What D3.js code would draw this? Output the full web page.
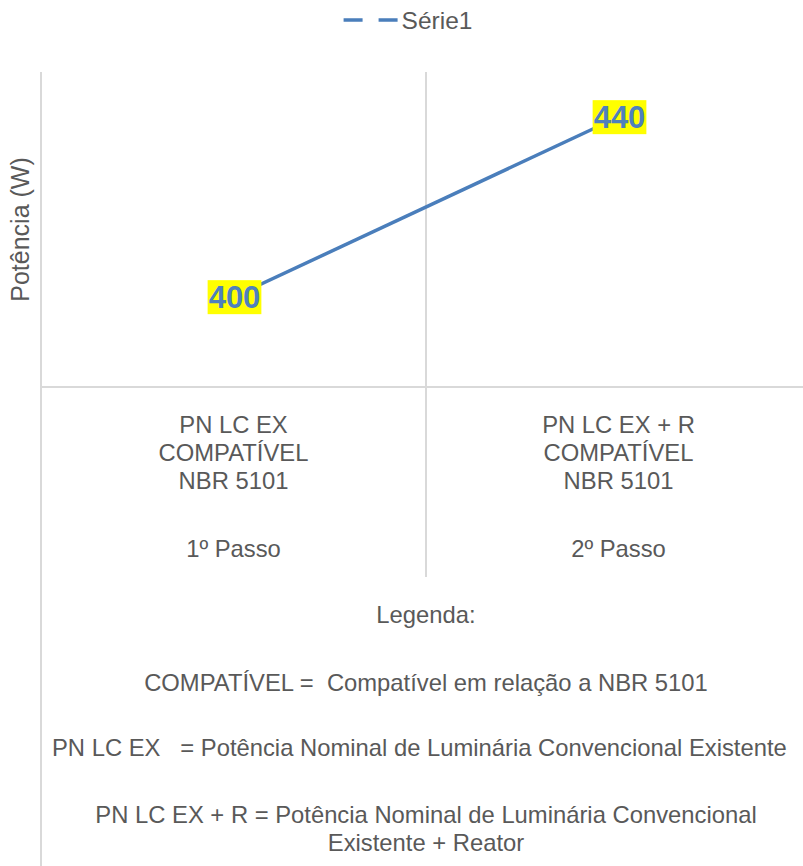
<!DOCTYPE html>
<meta charset="utf-8">
<head>
  <title>Potência (W)</title>
</head>

<style>
body {
  margin: 0;
  background: #fff;
  font-family: "Liberation Sans", Arial, sans-serif;
}
svg text {
  white-space: pre;
  fill: #595959;
  font-size: 23.8px;
}
.grid {
  stroke: #d9d9d9;
  stroke-width: 2;
}
</style>

<body>
  <svg width="803" height="866"></svg>

  <script src="https://cdnjs.cloudflare.com/ajax/libs/d3/7.8.5/d3.min.js"></script>

  <script>
  // data
  var categories = ["1º Passo", "2º Passo"];
  var categoryNames = [
    ["PN LC EX", "COMPATÍVEL", "NBR 5101"],
    ["PN LC EX + R", "COMPATÍVEL", "NBR 5101"]
  ];
  var values = [400, 440];
  var seriesName = "Série1";
  var yTitle = "Potência (W)";
  var notes = [
    "Legenda:",
    "COMPATÍVEL =  Compatível em relação a NBR 5101",
    "PN LC EX   = Potência Nominal de Luminária Convencional Existente  ",
    "PN LC EX + R = Potência Nominal de Luminária Convencional",
    "Existente + Reator"
  ];
  var noteBaselines = [623, 691, 756, 823, 851];

  var blue = "#4a7ebb";
  var svg = d3.select("svg");

  var x = d3.scaleBand()
    .domain(categories)
    .range([41, 811]);

  var y = d3.scaleLinear()
    .domain([380, 450])
    .range([387, 72]);

  var xc = function(c) { return x(c) + x.bandwidth() / 2; };

  // lines of the frame
  svg.append("line").attr("class", "grid")
    .attr("x1", x.range()[0]).attr("x2", x.range()[0])
    .attr("y1", y.range()[1]).attr("y2", 866);

  svg.append("line").attr("class", "grid")
    .attr("x1", x(categories[1])).attr("x2", x(categories[1]))
    .attr("y1", y.range()[1]).attr("y2", 577);

  svg.append("line").attr("class", "grid")
    .attr("x1", x.range()[0]).attr("x2", x.range()[1])
    .attr("y1", y.range()[0]).attr("y2", y.range()[0]);

  // category labels
  var cat = svg.append("g").selectAll("g")
    .data(categories)
    .enter().append("g")
    .attr("transform", function(d) { return "translate(" + xc(d) + "," + y.range()[0] + ")"; });

  cat.each(function(d, i) {
    var g = d3.select(this);
    categoryNames[i].forEach(function(t, j) {
      g.append("text")
        .attr("text-anchor", "middle")
        .attr("y", 46 + j * 28)
        .text(t);
    });
    g.append("text")
      .attr("text-anchor", "middle")
      .attr("y", 170)
      .text(d);
  });

  // notes below the axis
  var midX = (x.range()[0] + x.range()[1]) / 2;
  svg.append("g").selectAll("text")
    .data(notes)
    .enter().append("text")
    .attr("text-anchor", "middle")
    .attr("x", midX)
    .attr("y", function(d, i) { return noteBaselines[i]; })
    .text(function(d) { return d; });

  // y title
  svg.append("text")
    .attr("text-anchor", "middle")
    .attr("transform", "translate(29," + ((y.range()[0] + y.range()[1]) / 2) + ") rotate(-90)")
    .style("font-size", "25px")
    .text(yTitle);

  // series line
  var line = d3.line()
    .x(function(d, i) { return xc(categories[i]); })
    .y(function(d) { return y(d); });

  svg.append("path")
    .datum(values)
    .attr("d", line)
    .attr("fill", "none")
    .attr("stroke", blue)
    .attr("stroke-width", 3.5);

  // data labels
  var lab = svg.append("g").selectAll("g")
    .data(values)
    .enter().append("g")
    .attr("transform", function(d, i) { return "translate(" + (xc(categories[i]) + 1) + "," + y(d) + ")"; });

  lab.append("rect").attr("fill", "#ffff00");
  lab.append("text")
    .attr("text-anchor", "middle")
    .attr("dy", "0.36em")
    .style("font-size", "31px")
    .style("font-weight", "bold")
    .style("fill", "#4f81bd")
    .text(function(d) { return d; });

  lab.each(function() {
    var b = d3.select(this).select("text").node().getBBox();
    d3.select(this).select("rect")
      .attr("x", b.x - 1).attr("y", b.y)
      .attr("width", b.width + 2).attr("height", b.height - 1);
  });

  // legend
  var leg = svg.append("g");
  var legText = leg.append("text")
    .attr("x", 58)
    .attr("y", 28.5)
    .style("font-size", "24.5px")
    .text(seriesName);
  leg.append("line")
    .attr("x1", 0).attr("x2", 54)
    .attr("y1", 20).attr("y2", 20)
    .attr("stroke", blue)
    .attr("stroke-width", 3.5)
    .attr("stroke-dasharray", "19,16");
  var lw = 58 + legText.node().getComputedTextLength();
  leg.attr("transform", "translate(" + (408 - lw / 2) + ",0)");
  </script>
</body>
</html>
